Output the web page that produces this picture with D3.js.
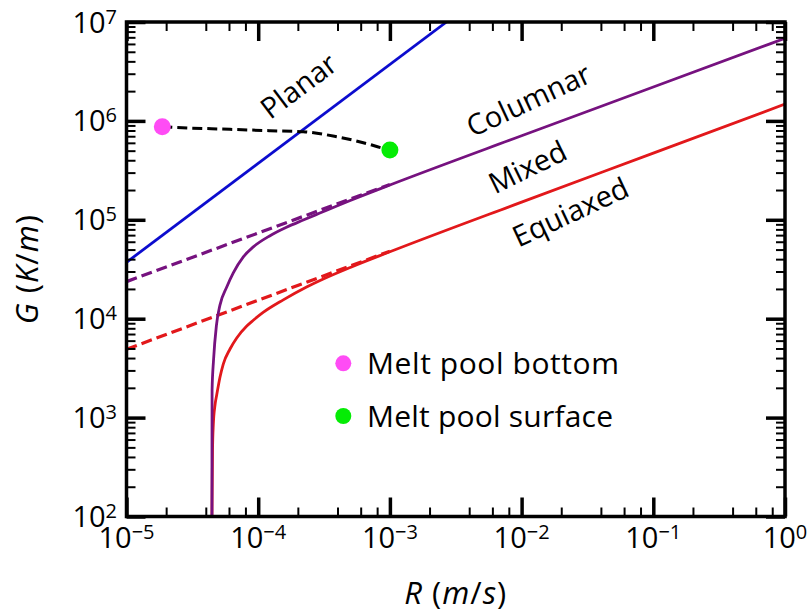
<!DOCTYPE html>
<html>
<head>
<meta charset="utf-8">
<script src="https://cdn.jsdelivr.net/npm/d3@7"></script>
<style>
  html, body { margin: 0; padding: 0; background: #fff; }
  svg { display: block; font-family: "Open Sans", Lato, sans-serif; }
</style>
</head>
<body>
<div id="chart"></div>
<script>
// tick values
const xMajor = [1e-5, 1e-4, 1e-3, 1e-2, 1e-1, 1];
const xExp = [-5, -4, -3, -2, -1, 0];
const xSubs = [2, 4, 6, 8];
const yMajor = [1e2, 1e3, 1e4, 1e5, 1e6, 1e7];
const yExp = [2, 3, 4, 5, 6, 7];
const ySubs = [2, 3, 4, 5, 6, 7, 8, 9];

// planar boundary
const planarR = [1e-5, 2.69e-3];
const planarG = [3.72e4, 1e7];

// columnar / mixed boundary (solid) and its asymptote (dashed)
const columnarR = [4.455e-5, 4.458e-5, 4.465e-5, 4.58e-5, 4.82e-5, 5.13e-5, 5.77e-5, 6.47e-5, 7.71e-5, 9.18e-5, 1.23e-4, 1.64e-4, 2.20e-4, 2.94e-4, 5e-4, 1e-3, 1e-2, 1e-1, 1];
const columnarG = [100, 470, 1900, 3820, 8630, 1.38e4, 2.09e4, 2.90e4, 4.21e4, 5.32e4, 6.91e4, 8.40e4, 9.95e4, 1.17e5, 1.57e5, 2.25e5, 7.08e5, 2.20e6, 6.84e6];
const columnarDashR = [1e-5, 1e-3];
const columnarDashG = [2.37e4, 2.28e5];

// mixed / equiaxed boundary (solid) and its asymptote (dashed)
const equiaxedR = [4.455e-5, 4.50e-5, 4.56e-5, 4.70e-5, 4.84e-5, 5.13e-5, 5.43e-5, 6.11e-5, 6.87e-5, 8.19e-5, 9.18e-5, 1.09e-4, 1.55e-4, 2.33e-4, 3.12e-4, 5e-4, 1e-3, 1e-2, 1e-1, 1];
const equiaxedG = [100, 470, 841, 1340, 1690, 2570, 3480, 4940, 6380, 8430, 9640, 1.156e4, 1.55e4, 2.09e4, 2.52e4, 3.3e4, 4.75e4, 1.51e5, 4.72e5, 1.48e6];
const equiaxedDashR = [1e-5, 1e-3];
const equiaxedDashG = [4.91e3, 4.82e4];

// melt pool path, bottom -> surface
const pathR = [1.87e-5, 2.26e-5, 6.11e-5, 1.23e-4, 2.20e-4, 3.94e-4, 6.28e-4, 8.91e-4, 1e-3];
const pathG = [8.73e5, 8.61e5, 8.22e5, 7.96e5, 7.78e5, 6.92e5, 6.02e5, 5.28e5, 5.08e5];

const pointNames = ['Melt pool bottom', 'Melt pool surface'];
const pointR = [1.87e-5, 1e-3];
const pointG = [8.73e5, 5.08e5];
const pointColors = ['#ff4cf5', '#05ec05'];

const W = 810, H = 612;
const pLeft = 126.5, pRight = 785, pTop = 22, pBottom = 516.5;

const svg = d3.select('#chart').append('svg')
  .attr('width', W)
  .attr('height', H);

svg.append('rect').attr('width', W).attr('height', H).attr('fill', '#fff');

const x = d3.scaleLog().domain([1e-5, 1]).range([pLeft, pRight]);
const y = d3.scaleLog().domain([1e2, 1e7]).range([pBottom, pTop]);

const zip = (a, b) => a.map((v, i) => [v, b[i]]);
const minors = (majors, subs) => {
  const out = [];
  majors.slice(0, -1).forEach(m => subs.forEach(s => out.push(m * s)));
  return out;
};

svg.append('clipPath').attr('id', 'clip')
  .append('rect')
  .attr('x', pLeft).attr('y', pTop)
  .attr('width', pRight - pLeft).attr('height', pBottom - pTop);

const plot = svg.append('g').attr('clip-path', 'url(#clip)');

const line = d3.line().x(d => x(d[0])).y(d => y(d[1]));
const smooth = d3.line().x(d => x(d[0])).y(d => y(d[1])).curve(d3.curveMonotoneX);

// dashed asymptotes
plot.append('path')
  .attr('d', line(zip(equiaxedDashR, equiaxedDashG)))
  .attr('fill', 'none').attr('stroke', '#e2181b')
  .attr('stroke-width', 3.2).attr('stroke-dasharray', '11,5');
plot.append('path')
  .attr('d', line(zip(columnarDashR, columnarDashG)))
  .attr('fill', 'none').attr('stroke', '#76127f')
  .attr('stroke-width', 3.2).attr('stroke-dasharray', '11,5');

// solid boundaries
plot.append('path')
  .attr('d', smooth(zip(equiaxedR, equiaxedG)))
  .attr('fill', 'none').attr('stroke', '#e2181b').attr('stroke-width', 2.8);
plot.append('path')
  .attr('d', smooth(zip(columnarR, columnarG)))
  .attr('fill', 'none').attr('stroke', '#76127f').attr('stroke-width', 2.8);
plot.append('path')
  .attr('d', line(zip(planarR, planarG)))
  .attr('fill', 'none').attr('stroke', '#0c0cce').attr('stroke-width', 2.8);

// melt pool path
plot.append('path')
  .attr('d', smooth(zip(pathR, pathG)))
  .attr('fill', 'none').attr('stroke', '#000')
  .attr('stroke-width', 3).attr('stroke-dasharray', '10,5');

plot.selectAll('circle.pt')
  .data(zip(pointR, pointG))
  .join('circle')
  .attr('class', 'pt')
  .attr('cx', d => x(d[0]))
  .attr('cy', d => y(d[1]))
  .attr('r', 8.5)
  .attr('fill', (d, i) => pointColors[i]);

// region labels
const regions = [
  { text: 'Planar', cx: 298, cy: 85, rot: -37 },
  { text: 'Columnar', cx: 528, cy: 99, rot: -25 },
  { text: 'Mixed', cx: 527, cy: 166, rot: -26 },
  { text: 'Equiaxed', cx: 570, cy: 211, rot: -25 }
];
svg.selectAll('text.region')
  .data(regions)
  .join('text')
  .attr('class', 'region')
  .attr('transform', d => `translate(${d.cx},${d.cy}) rotate(${d.rot})`)
  .attr('text-anchor', 'middle')
  .attr('dominant-baseline', 'central')
  .attr('font-size', 29)
  .text(d => d.text);

// legend
const legendWidths = [252, 246];
const legend = svg.append('g');
pointNames.forEach((name, i) => {
  const ly = 363.3 + i * 52.7;
  legend.append('circle').attr('cx', 343.3).attr('cy', ly).attr('r', 8).attr('fill', pointColors[i]);
  legend.append('text').attr('x', 367).attr('y', ly + 11)
    .attr('font-size', 30)
    .attr('textLength', legendWidths[i]).attr('lengthAdjust', 'spacing')
    .text(name);
});

// ticks (inward on all four sides)
const styleTicks = (g, w) => {
  g.select('.domain').remove();
  g.selectAll('line').attr('stroke', '#000').attr('stroke-width', w);
  g.selectAll('text').remove();
};
const addAxis = (axisFn, scale, values, size, w, tr) => {
  svg.append('g')
    .attr('transform', tr)
    .call(axisFn(scale).tickValues(values).tickSize(-size).tickFormat(() => ''))
    .call(g => styleTicks(g, w));
};
addAxis(d3.axisBottom, x, minors(xMajor, xSubs), 9, 2, `translate(0,${pBottom})`);
addAxis(d3.axisBottom, x, xMajor, 19, 3.5, `translate(0,${pBottom})`);
addAxis(d3.axisTop, x, minors(xMajor, xSubs), 9, 2, `translate(0,${pTop})`);
addAxis(d3.axisTop, x, xMajor, 19, 3.5, `translate(0,${pTop})`);
addAxis(d3.axisLeft, y, minors(yMajor, ySubs), 9, 2, `translate(${pLeft},0)`);
addAxis(d3.axisLeft, y, yMajor, 19, 3.5, `translate(${pLeft},0)`);
addAxis(d3.axisRight, y, minors(yMajor, ySubs), 9, 2, `translate(${pRight},0)`);
addAxis(d3.axisRight, y, yMajor, 19, 3.5, `translate(${pRight},0)`);

// frame
svg.append('rect')
  .attr('x', pLeft).attr('y', pTop)
  .attr('width', pRight - pLeft).attr('height', pBottom - pTop)
  .attr('fill', 'none').attr('stroke', '#000').attr('stroke-width', 3.5);

// tick labels
const powLabel = (t, e) => {
  t.append('tspan').text('10');
  t.append('tspan').attr('dy', -9).attr('font-size', 20)
    .text(e < 0 ? '\u2212' + (-e) : String(e));
};
xMajor.forEach((v, i) => {
  svg.append('text')
    .attr('x', x(v)).attr('y', 548)
    .attr('text-anchor', 'middle').attr('font-size', 29)
    .call(t => powLabel(t, xExp[i]));
});
yMajor.forEach((v, i) => {
  svg.append('text')
    .attr('x', 117).attr('y', y(v) + 10.5)
    .attr('text-anchor', 'end').attr('font-size', 29)
    .call(t => powLabel(t, yExp[i]));
});

// axis titles
const xt = svg.append('text')
  .attr('x', (pLeft + pRight) / 2).attr('y', 604)
  .attr('text-anchor', 'middle').attr('font-size', 31)
  .attr('letter-spacing', 1);
xt.append('tspan').attr('font-style', 'italic').text('R');
xt.append('tspan').text(' (');
xt.append('tspan').attr('font-style', 'italic').text('m');
xt.append('tspan').text('/');
xt.append('tspan').attr('font-style', 'italic').text('s');
xt.append('tspan').text(')');

const yt = svg.append('text')
  .attr('transform', `translate(38,${(pTop + pBottom) / 2}) rotate(-90)`)
  .attr('text-anchor', 'middle').attr('font-size', 31)
  .attr('letter-spacing', 1);
yt.append('tspan').attr('font-style', 'italic').text('G');
yt.append('tspan').text(' (');
yt.append('tspan').attr('font-style', 'italic').text('K');
yt.append('tspan').text('/');
yt.append('tspan').attr('font-style', 'italic').text('m');
yt.append('tspan').text(')');
</script>
</body>
</html>
